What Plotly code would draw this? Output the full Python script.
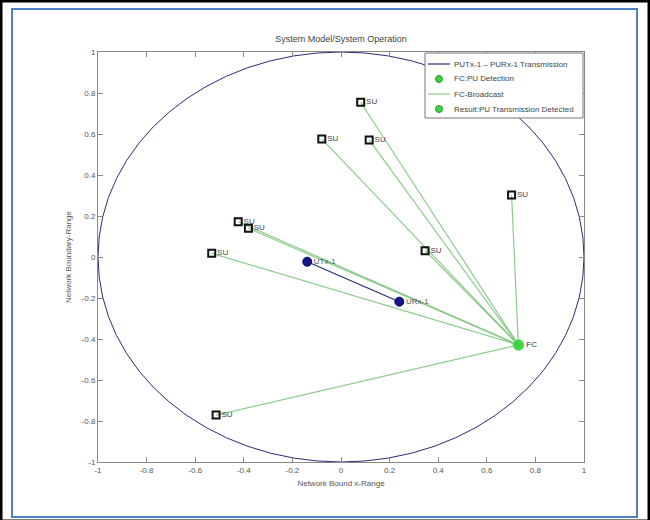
import plotly.graph_objects as go

# ---- data ----
su_x = [0.081, -0.079, 0.116, 0.702, -0.423, -0.381, -0.532, 0.346, -0.514]
su_y = [0.755, 0.576, 0.571, 0.302, 0.172, 0.140, 0.018, 0.031, -0.771]
su_labels = ["SU"] * len(su_x)

pu_x = [-0.139, 0.240]
pu_y = [-0.023, -0.218]
pu_labels = ["UTx-1", "URx-1"]

fc_x = [0.730]
fc_y = [-0.429]
fc_labels = ["FC"]

tick_vals = [-1, -0.8, -0.6, -0.4, -0.2, 0, 0.2, 0.4, 0.6, 0.8, 1]
x_tick_text = ["-1", "-0.8", "-0.6", "-0.4", "-0.2", "0", "0.2", "0.4", "0.6", "0.8", "1"]
y_tick_text = ["-1", "-0.8", "-0.6", "-0.4", "-0.2", "0", "0.2", "0.4", "0.6", "0.8", "1"]

legend_names = ["PUTx-1 \u2013 PURx-1 Transmission", "FC:PU Detection",
                "FC-Broadcast", "Result:PU Transmission Detected"]
legend_kinds = ["line", "marker", "line", "marker"]

title_text = "System Model/System Operation"
xlabel = "Network Bound x-Range"
ylabel = "Network Boundary-Range"

# ---- styling ----
FONT = "Liberation Sans, Arial, sans-serif"
TXT = "#555555"
NAVY = "#2b2b78"
GREEN_LINE = "rgba(120,195,120,0.85)"
GREEN = "#3fd13f"

# broadcast lines FC -> each SU
bx, by = [], []
for sx, sy in zip(su_x, su_y):
    bx += [fc_x[0], sx, None]
    by += [fc_y[0], sy, None]

fig = go.Figure()

fig.add_trace(go.Scatter(x=pu_x, y=pu_y, mode="lines", name=legend_names[0],
                         line=dict(color=NAVY, width=1.2)))
fig.add_trace(go.Scatter(x=bx, y=by, mode="lines", name=legend_names[2],
                         line=dict(color=GREEN_LINE, width=1.2)))
fig.add_trace(go.Scatter(x=fc_x, y=fc_y, mode="markers+text", name=legend_names[3],
                         text=fc_labels, textposition="middle right",
                         textfont=dict(size=8, color="#333333", family=FONT),
                         marker=dict(symbol="circle", size=11, color=GREEN,
                                     line=dict(color="#7be87b", width=1))))
fig.add_trace(go.Scatter(x=su_x, y=su_y, mode="markers+text",
                         text=su_labels, textposition="middle right",
                         textfont=dict(size=8, color="#444444", family=FONT),
                         marker=dict(symbol="square-open", size=7, color="#111111",
                                     line=dict(color="#111111", width=2))))
fig.add_trace(go.Scatter(x=pu_x, y=pu_y, mode="markers+text",
                         text=pu_labels, textposition="middle right",
                         textfont=dict(size=8, color="#445566", family=FONT),
                         marker=dict(symbol="circle", size=9, color="#14148c",
                                     line=dict(color="#0a0a60", width=1))))

L, R, T, B = 98, 66, 52, 58
W, H = 650, 520
pw, ph = W - L - R, H - T - B


def px_x(p):
    return (p - L) / pw


def px_y(p):
    return (H - B - p) / ph


shapes = [
    dict(type="circle", xref="x", yref="y", x0=-1, x1=1, y0=-1, y1=1,
         line=dict(color=NAVY, width=1), layer="below"),
    dict(type="rect", xref="paper", yref="paper",
         x0=px_x(12), x1=px_x(637), y0=px_y(517), y1=px_y(9),
         line=dict(color="#4f7fc8", width=2)),
    dict(type="rect", xref="paper", yref="paper",
         x0=px_x(0), x1=px_x(650), y0=px_y(522), y1=px_y(0),
         line=dict(color="#000000", width=5)),
    # legend box
    dict(type="rect", xref="paper", yref="paper",
         x0=px_x(425), x1=px_x(583), y0=px_y(118), y1=px_y(53),
         line=dict(color="#777777", width=1), fillcolor="white"),
]
annotations = []
entry_y = [64, 79, 94, 109]
for name, kind, ey in zip(legend_names, legend_kinds, entry_y):
    if kind == "line":
        col = NAVY if name == legend_names[0] else GREEN_LINE
        shapes.append(dict(type="line", xref="paper", yref="paper",
                           x0=px_x(428), x1=px_x(450), y0=px_y(ey), y1=px_y(ey),
                           line=dict(color=col, width=1.2)))
    else:
        r = 3.5
        shapes.append(dict(type="circle", xref="paper", yref="paper",
                           x0=px_x(439 - r), x1=px_x(439 + r),
                           y0=px_y(ey + r), y1=px_y(ey - r),
                           fillcolor=GREEN, line=dict(color="#2a9a2a", width=1)))
    annotations.append(dict(text=name, xref="paper", yref="paper",
                            x=px_x(452), y=px_y(ey), xanchor="left", yanchor="middle",
                            showarrow=False,
                            font=dict(size=8, color="#444444", family=FONT)))

fig.update_layout(
    width=W, height=H,
    margin=dict(l=L, r=R, t=T, b=B),
    paper_bgcolor="white", plot_bgcolor="white",
    font=dict(family=FONT, size=8, color=TXT),
    title=dict(text=title_text, x=341 / W, xref="container", xanchor="center",
               y=1 - 39 / H, yref="container", yanchor="middle",
               font=dict(size=9, color="#444444")),
    shapes=shapes,
    annotations=annotations,
    showlegend=False,
)

axis_common = dict(
    tickvals=tick_vals, showgrid=False, zeroline=False,
    showline=True, linecolor="#888888", linewidth=1, mirror="ticks",
    ticks="inside", ticklen=5, tickcolor="#888888",
    tickfont=dict(size=8, color=TXT),
)
fig.update_xaxes(range=[-1, 1], ticktext=x_tick_text,
                 title=dict(text=xlabel, font=dict(size=8, color=TXT), standoff=6),
                 **axis_common)
fig.update_yaxes(range=[-1, 1], ticktext=y_tick_text,
                 title=dict(text=ylabel, font=dict(size=8, color=TXT), standoff=8),
                 **axis_common)

fig.write_html("out.html")
